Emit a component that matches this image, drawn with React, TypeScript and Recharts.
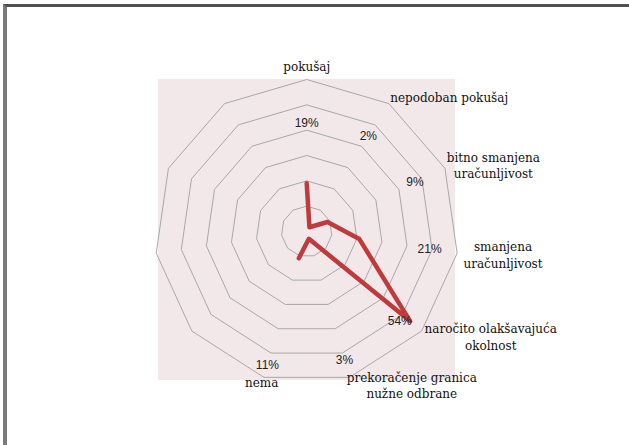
import { RadarChart, Radar, PolarGrid, PolarAngleAxis, PolarRadiusAxis } from "recharts";

const categories = [
  "pokušaj",
  "nepodoban pokušaj",
  "bitno smanjena\nuračunljivost",
  "smanjena\nuračunljivost",
  "naročito olakšavajuća\nokolnost",
  "prekoračenje granica\nnužne odbrane",
  "nema",
  "",
  "",
  "",
  "",
];
const shares: (number | null)[] = [19, 2, 9, 21, 54, 3, 11, null, null, null, null];
const radiusDomain = [0, 60];

const data = categories.map((name, i) => ({ key: `k${i}`, name, share: shares[i] }));

const CX = 306.7;
const CY = 231.5;
const R = 152;
const RED = "#c0393b";
const SERIF = "DejaVu Serif";
const SANS = "Liberation Sans";
const RAD = Math.PI / 180;

const serifStyle = { fontFamily: SERIF, fontSize: 12, fill: "#111" };

function polar(cx: number, cy: number, r: number, angle: number) {
  return { x: cx + r * Math.cos(-angle * RAD), y: cy + r * Math.sin(-angle * RAD) };
}

function AngleTick(props: any) {
  const { x, y, index } = props;
  const lines = (data[index]?.name ?? "").split("\n").filter((s: string) => s.length > 0);
  if (lines.length === 0) return null;
  const dx = x - CX;
  const lineH = 16.5;
  const n = lines.length;

  if (Math.abs(dx) < 5) {
    // top label, sits above the vertex
    return (
      <text x={x} y={y} textAnchor="middle" fontFamily={SERIF} style={serifStyle}>
        {lines.map((l: string, k: number) => (
          <tspan key={k} x={x} y={y - 1 - (n - 1 - k) * lineH}>{l}</tspan>
        ))}
      </text>
    );
  }
  if (dx > 0.2 * R) {
    const maxLen = Math.max(...lines.map((l: string) => l.length));
    const blockW = maxLen * 6.3;
    const midX = x - 3 + blockW / 2;
    return (
      <text x={x} y={y} fontFamily={SERIF} style={serifStyle} textAnchor={n === 1 ? "start" : "middle"}>
        {lines.map((l: string, k: number) => (
          <tspan key={k} x={n === 1 ? x - 3 : midX} y={y + 5 + (k - (n - 1) / 2) * lineH}>{l}</tspan>
        ))}
      </text>
    );
  }
  return (
    <text x={x} y={y} textAnchor="middle" fontFamily={SERIF} style={serifStyle}>
      {lines.map((l: string, k: number) => (
        <tspan key={k} x={x} y={y + 1.5 + k * lineH}>{l}</tspan>
      ))}
    </text>
  );
}

function OpenLine(props: any) {
  const points = (props.points || []).filter(
    (p: any) => p.value !== null && p.value !== undefined && Number.isFinite(p.x) && Number.isFinite(p.y)
  );
  if (points.length === 0) return null;
  const d = points.map((p: any, i: number) => `${i === 0 ? "M" : "L"}${p.x},${p.y}`).join(" ");
  const ref = points.reduce((a: any, b: any) => (b.value > a.value ? b : a));
  const k = ref.radius / ref.value;
  return (
    <g>
      <path d={d} fill="none" stroke={RED} strokeWidth={4.5} strokeLinejoin="round" strokeLinecap="round" />
      {points.map((p: any, i: number) => {
        const pos = polar(p.cx, p.cy, (43 + 2 * i) * k, p.angle + (i === 4 ? -3 : 0));
        return (
          <text
            key={i}
            x={pos.x}
            y={pos.y + 4}
            textAnchor="middle"
            fontFamily={SANS}
            style={{ fontFamily: SANS, fontSize: 12, fill: "#222" }}
          >
            {`${p.value}%`}
          </text>
        );
      })}
    </g>
  );
}

export default function App() {
  return (
    <div style={{ position: "absolute", left: 0, top: 0, width: 629, height: 445, background: "#fff", overflow: "hidden" }}>
      <div
        style={{
          position: "absolute",
          left: 3,
          top: 4,
          width: 640,
          height: 460,
          borderLeft: "4px solid #7a7a7a",
          borderTop: "3px solid #4f4f4f",
        }}
      />
      <div style={{ position: "absolute", left: 158, top: 79, width: 297, height: 301, background: "#f2e8ea" }} />
      <div style={{ position: "absolute", left: 0, top: 0 }}>
        <RadarChart width={629} height={445} data={data} cx={CX} cy={CY} outerRadius={R}>
          <PolarGrid gridType="polygon" radialLines={false} stroke="#a8a8a8" strokeWidth={1} />
          <PolarAngleAxis dataKey="key" tick={<AngleTick />} tickLine={false} axisLine={false} />
          <PolarRadiusAxis domain={radiusDomain} tickCount={7} angle={90} tick={false} axisLine={false} />
          <Radar dataKey="share" isAnimationActive={false} dot={false} shape={<OpenLine />} />
        </RadarChart>
      </div>
    </div>
  );
}
